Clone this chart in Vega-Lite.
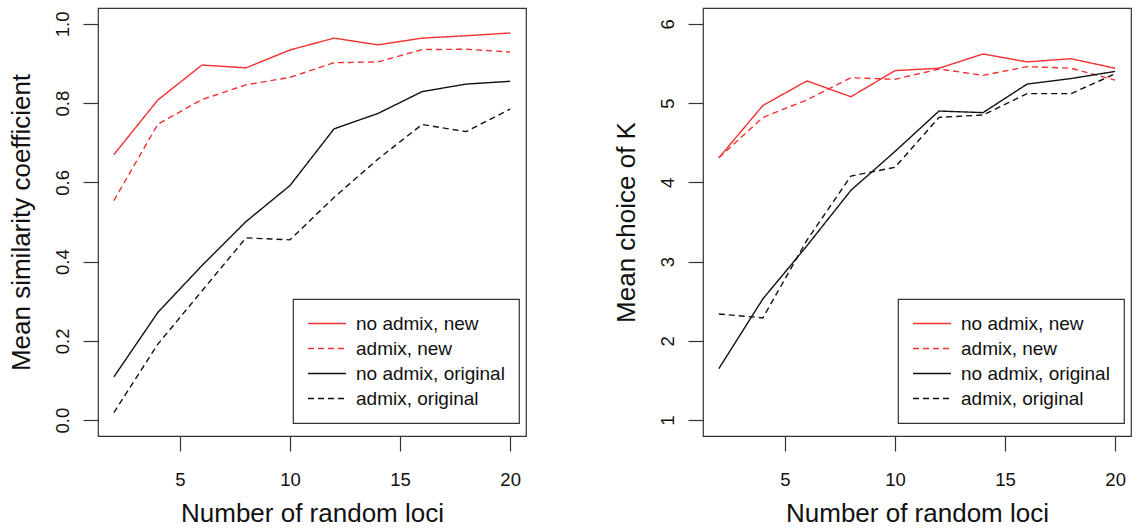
{
  "$schema": "https://vega.github.io/schema/vega-lite/v6.json",
  "padding": {"left": 7, "top": 7, "right": 0, "bottom": 0},
  "background": "white",
  "datasets": {
    "sim": [
      {"s": "no admix, new", "x": 2, "y": 0.670}, {"s": "no admix, new", "x": 4, "y": 0.808}, {"s": "no admix, new", "x": 6, "y": 0.896}, {"s": "no admix, new", "x": 8, "y": 0.889}, {"s": "no admix, new", "x": 10, "y": 0.934}, {"s": "no admix, new", "x": 12, "y": 0.964}, {"s": "no admix, new", "x": 14, "y": 0.947}, {"s": "no admix, new", "x": 16, "y": 0.964}, {"s": "no admix, new", "x": 18, "y": 0.970}, {"s": "no admix, new", "x": 20, "y": 0.977},
      {"s": "admix, new", "x": 2, "y": 0.554}, {"s": "admix, new", "x": 4, "y": 0.747}, {"s": "admix, new", "x": 6, "y": 0.809}, {"s": "admix, new", "x": 8, "y": 0.846}, {"s": "admix, new", "x": 10, "y": 0.865}, {"s": "admix, new", "x": 12, "y": 0.902}, {"s": "admix, new", "x": 14, "y": 0.904}, {"s": "admix, new", "x": 16, "y": 0.935}, {"s": "admix, new", "x": 18, "y": 0.936}, {"s": "admix, new", "x": 20, "y": 0.929},
      {"s": "no admix, original", "x": 2, "y": 0.109}, {"s": "no admix, original", "x": 4, "y": 0.272}, {"s": "no admix, original", "x": 6, "y": 0.390}, {"s": "no admix, original", "x": 8, "y": 0.501}, {"s": "no admix, original", "x": 10, "y": 0.592}, {"s": "no admix, original", "x": 12, "y": 0.735}, {"s": "no admix, original", "x": 14, "y": 0.774}, {"s": "no admix, original", "x": 16, "y": 0.829}, {"s": "no admix, original", "x": 18, "y": 0.848}, {"s": "no admix, original", "x": 20, "y": 0.855},
      {"s": "admix, original", "x": 2, "y": 0.019}, {"s": "admix, original", "x": 4, "y": 0.192}, {"s": "admix, original", "x": 6, "y": 0.326}, {"s": "admix, original", "x": 8, "y": 0.460}, {"s": "admix, original", "x": 10, "y": 0.455}, {"s": "admix, original", "x": 12, "y": 0.562}, {"s": "admix, original", "x": 14, "y": 0.659}, {"s": "admix, original", "x": 16, "y": 0.746}, {"s": "admix, original", "x": 18, "y": 0.728}, {"s": "admix, original", "x": 20, "y": 0.785}
    ],
    "k": [
      {"s": "no admix, new", "x": 2, "y": 4.31}, {"s": "no admix, new", "x": 4, "y": 4.97}, {"s": "no admix, new", "x": 6, "y": 5.28}, {"s": "no admix, new", "x": 8, "y": 5.08}, {"s": "no admix, new", "x": 10, "y": 5.41}, {"s": "no admix, new", "x": 12, "y": 5.44}, {"s": "no admix, new", "x": 14, "y": 5.62}, {"s": "no admix, new", "x": 16, "y": 5.52}, {"s": "no admix, new", "x": 18, "y": 5.56}, {"s": "no admix, new", "x": 20, "y": 5.44},
      {"s": "admix, new", "x": 2, "y": 4.31}, {"s": "admix, new", "x": 4, "y": 4.82}, {"s": "admix, new", "x": 6, "y": 5.04}, {"s": "admix, new", "x": 8, "y": 5.32}, {"s": "admix, new", "x": 10, "y": 5.30}, {"s": "admix, new", "x": 12, "y": 5.43}, {"s": "admix, new", "x": 14, "y": 5.35}, {"s": "admix, new", "x": 16, "y": 5.46}, {"s": "admix, new", "x": 18, "y": 5.44}, {"s": "admix, new", "x": 20, "y": 5.29},
      {"s": "no admix, original", "x": 2, "y": 1.65}, {"s": "no admix, original", "x": 4, "y": 2.53}, {"s": "no admix, original", "x": 6, "y": 3.20}, {"s": "no admix, original", "x": 8, "y": 3.90}, {"s": "no admix, original", "x": 10, "y": 4.39}, {"s": "no admix, original", "x": 12, "y": 4.90}, {"s": "no admix, original", "x": 14, "y": 4.88}, {"s": "no admix, original", "x": 16, "y": 5.24}, {"s": "no admix, original", "x": 18, "y": 5.31}, {"s": "no admix, original", "x": 20, "y": 5.40},
      {"s": "admix, original", "x": 2, "y": 2.34}, {"s": "admix, original", "x": 4, "y": 2.29}, {"s": "admix, original", "x": 6, "y": 3.27}, {"s": "admix, original", "x": 8, "y": 4.08}, {"s": "admix, original", "x": 10, "y": 4.19}, {"s": "admix, original", "x": 12, "y": 4.82}, {"s": "admix, original", "x": 14, "y": 4.85}, {"s": "admix, original", "x": 16, "y": 5.12}, {"s": "admix, original", "x": 18, "y": 5.12}, {"s": "admix, original", "x": 20, "y": 5.37}
    ]
  },
  "config": {
    "font": "Liberation Sans",
    "view": {"stroke": "#333", "strokeWidth": 1.2},
    "axis": {
      "domain": false,
      "grid": false,
      "tickSize": 15,
      "tickColor": "#333",
      "tickWidth": 1.2,
      "labelFontSize": 18.5,
      "labelColor": "#111",
      "titleFontSize": 26,
      "titleFontWeight": "normal",
      "titleColor": "#111"
    },
    "axisX": {"labelPadding": 19, "titlePadding": 12},
    "axisY": {"labelAngle": 270, "labelAlign": "center", "labelBaseline": "bottom", "labelPadding": 11, "titlePadding": 19},
    "legend": {
      "orient": "none",
      "legendX": 195,
      "legendY": 291,
      "title": null,
      "strokeColor": "#333",
      "strokeWidth": 1.2,
      "padding": 14,
      "symbolType": "M-1,0L3,0",
      "symbolSize": 361,
      "symbolStrokeWidth": 1.4,
      "labelFontSize": 19,
      "labelColor": "#111",
      "labelOffset": 28,
      "rowPadding": 4,
      "labelLimit": 400
    }
  },
  "spacing": 85,
  "resolve": {"legend": {"color": "independent", "strokeDash": "independent"}},
  "hconcat": [
    {
      "width": 428,
      "height": 428,
      "data": {"name": "sim"},
      "mark": {"type": "line", "strokeWidth": 1.4},
      "encoding": {
        "x": {"field": "x", "type": "quantitative", "title": "Number of random loci", "scale": {"domain": [1.28, 20.72], "nice": false, "zero": false}, "axis": {"values": [5, 10, 15, 20]}},
        "y": {"field": "y", "type": "quantitative", "title": "Mean similarity coefficient", "scale": {"domain": [-0.04, 1.04], "nice": false, "zero": false}, "axis": {"values": [0, 0.2, 0.4, 0.6, 0.8, 1.0], "format": ".1f"}},
        "color": {"field": "s", "type": "nominal", "scale": {"domain": ["no admix, new", "admix, new", "no admix, original", "admix, original"], "range": ["#f23030", "#f23030", "#111111", "#111111"]}},
        "strokeDash": {"field": "s", "type": "nominal", "scale": {"domain": ["no admix, new", "admix, new", "no admix, original", "admix, original"], "range": [[1, 0], [6, 4], [1, 0], [6, 4]]}}
      }
    },
    {
      "width": 428,
      "height": 428,
      "layer": [
        {
          "mark": {"type": "rule", "strokeDash": [1.5, 4.2], "color": "#333", "strokeWidth": 1.3},
          "encoding": {"y": {"datum": 5}}
        },
        {
          "data": {"name": "k"},
          "mark": {"type": "line", "strokeWidth": 1.4},
          "encoding": {
            "x": {"field": "x", "type": "quantitative", "title": "Number of random loci", "scale": {"domain": [1.28, 20.72], "nice": false, "zero": false}, "axis": {"values": [5, 10, 15, 20]}},
            "y": {"field": "y", "type": "quantitative", "title": "Mean choice of K", "scale": {"domain": [0.8, 6.2], "nice": false, "zero": false}, "axis": {"values": [1, 2, 3, 4, 5, 6], "format": "d", "titlePadding": 19}},
            "color": {"field": "s", "type": "nominal", "scale": {"domain": ["no admix, new", "admix, new", "no admix, original", "admix, original"], "range": ["#f23030", "#f23030", "#111111", "#111111"]}},
            "strokeDash": {"field": "s", "type": "nominal", "scale": {"domain": ["no admix, new", "admix, new", "no admix, original", "admix, original"], "range": [[1, 0], [6, 4], [1, 0], [6, 4]]}}
          }
        }
      ]
    }
  ]
}
